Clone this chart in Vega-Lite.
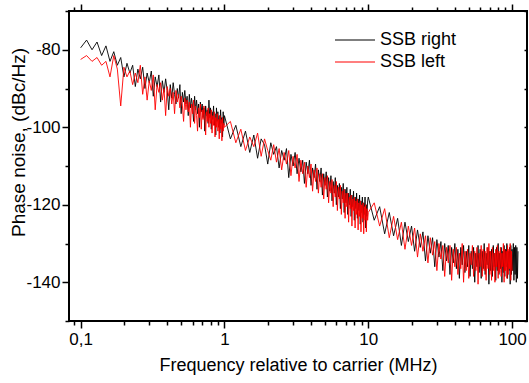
{
"$schema":"https://vega.github.io/schema/vega-lite/v6.json",
"width":458,"height":310,
"autosize":{"type":"none"},
"padding":{"left":69,"top":11,"right":2,"bottom":62},
"config":{"view":{"stroke":"#000","strokeWidth":2},"font":"Liberation Sans",
"axis":{"labelFont":"Liberation Sans","titleFont":"Liberation Sans","labelColor":"#000","titleColor":"#000","tickColor":"#000","domain":false,"grid":false,"tickWidth":1.5,"titleFontWeight":"normal","labelOverlap":false,"labelBound":false,"labelFlush":false}},
"data":{"values":[
{"f":0.1,"r":-79.5,"l":-82.5},{"f":0.11,"r":-77.5,"l":-81.5},{"f":0.12,"r":-80,"l":-83},{"f":0.13,"r":-78,"l":-82},{"f":0.14,"r":-81.5,"l":-84},{"f":0.15,"r":-79,"l":-83},{"f":0.16,"r":-83,"l":-87},{"f":0.17,"r":-80.5,"l":-81.5},{"f":0.18,"r":-84,"l":-85},{"f":0.19,"r":-82,"l":-94.5},
{"f":0.2,"r":-87,"l":-84.5},{"f":0.21,"r":-83.5,"l":-87},{"f":0.22,"r":-86,"l":-85.5},{"f":0.23,"r":-84,"l":-89},{"f":0.24,"r":-89.5,"l":-86},{"f":0.25,"r":-85,"l":-88.5},{"f":0.26,"r":-87.5,"l":-84},{"f":0.27,"r":-84.5,"l":-91.5},{"f":0.28,"r":-90,"l":-87},{"f":0.29,"r":-86,"l":-93},
{"f":0.3,"r":-88.5,"l":-88},{"f":0.31,"r":-85.5,"l":-90.5},{"f":0.32,"r":-92,"l":-86.5},{"f":0.33,"r":-87,"l":-95.5},{"f":0.34,"r":-89.5,"l":-89},{"f":0.35,"r":-86.5,"l":-91},{"f":0.36,"r":-93.5,"l":-88.5},{"f":0.37,"r":-88,"l":-93},{"f":0.38,"r":-91,"l":-90},{"f":0.39,"r":-87.5,"l":-97},
{"f":0.4,"r":-90.5,"l":-89.5},{"f":0.41,"r":-95.5,"l":-92},{"f":0.42,"r":-89,"l":-90},{"f":0.43,"r":-92.5,"l":-94},{"f":0.44,"r":-88.5,"l":-91},{"f":0.45,"r":-91.5,"l":-96.5},{"f":0.46,"r":-94,"l":-90.5},{"f":0.47,"r":-90,"l":-93.5},{"f":0.48,"r":-92.5,"l":-91.5},{"f":0.49,"r":-89,"l":-95},
{"f":0.5,"r":-96.5,"l":-92},{"f":0.51,"r":-91,"l":-94.5},{"f":0.52,"r":-93.5,"l":-98.5},{"f":0.53,"r":-90.5,"l":-92.5},{"f":0.54,"r":-94,"l":-95.5},{"f":0.55,"r":-92,"l":-93},{"f":0.56,"r":-97,"l":-96},{"f":0.57,"r":-91.5,"l":-93.5},{"f":0.58,"r":-95,"l":-100},{"f":0.59,"r":-92.5,"l":-94},
{"f":0.6,"r":-94.5,"l":-96.5},{"f":0.61,"r":-98.5,"l":-93},{"f":0.62,"r":-92,"l":-99},{"f":0.63,"r":-95.5,"l":-94.5},{"f":0.64,"r":-93,"l":-97},{"f":0.65,"r":-96.5,"l":-101},{"f":0.66,"r":-94,"l":-95},{"f":0.67,"r":-100,"l":-97.5},{"f":0.68,"r":-93.5,"l":-94},{"f":0.69,"r":-96,"l":-100.5},
{"f":0.7,"r":-94,"l":-95.5},{"f":0.71,"r":-97.5,"l":-98},{"f":0.72,"r":-95,"l":-94.5},{"f":0.73,"r":-101,"l":-97},{"f":0.74,"r":-94.5,"l":-102},{"f":0.75,"r":-97,"l":-96},{"f":0.76,"r":-95.5,"l":-98.5},{"f":0.77,"r":-99,"l":-95},{"f":0.78,"r":-93,"l":-100},{"f":0.79,"r":-97.5,"l":-96.5},
{"f":0.8,"r":-95,"l":-99},{"f":0.81,"r":-100.5,"l":-95.5},{"f":0.82,"r":-96,"l":-101.5},{"f":0.83,"r":-98,"l":-97},{"f":0.84,"r":-94.5,"l":-99.5},{"f":0.85,"r":-99.5,"l":-96},{"f":0.86,"r":-96.5,"l":-102.5},{"f":0.87,"r":-102,"l":-97.5},{"f":0.88,"r":-95,"l":-100},{"f":0.89,"r":-98.5,"l":-96.5},
{"f":0.9,"r":-96,"l":-101},{"f":0.91,"r":-100,"l":-98},{"f":0.92,"r":-97,"l":-103},{"f":0.93,"r":-101.5,"l":-97},{"f":0.94,"r":-95.5,"l":-100.5},{"f":0.95,"r":-99,"l":-98},{"f":0.96,"r":-97.5,"l":-103.5},{"f":0.97,"r":-102.5,"l":-97.5},{"f":0.98,"r":-96,"l":-101},{"f":0.99,"r":-99.5,"l":-99},
{"f":1.0,"r":-97,"l":-100},{"f":1.1,"r":-103,"l":-98.5},{"f":1.2,"r":-99.5,"l":-104},{"f":1.3,"r":-105,"l":-100.5},{"f":1.4,"r":-101,"l":-106},{"f":1.5,"r":-106.5,"l":-102.5},{"f":1.6,"r":-102,"l":-105},{"f":1.7,"r":-108,"l":-101.5},{"f":1.8,"r":-103,"l":-107.5},{"f":1.9,"r":-104.5,"l":-103},
{"f":2.0,"r":-109.5,"l":-106},{"f":2.1,"r":-104,"l":-108.5},{"f":2.2,"r":-107,"l":-104.5},{"f":2.3,"r":-105,"l":-109},{"f":2.4,"r":-110.5,"l":-105.5},{"f":2.5,"r":-106,"l":-111},{"f":2.6,"r":-108.5,"l":-106.5},{"f":2.7,"r":-105.5,"l":-109.5},{"f":2.8,"r":-113,"l":-106},{"f":2.9,"r":-107,"l":-112.5},
{"f":3.0,"r":-110,"l":-107.5},{"f":3.1,"r":-106.5,"l":-110.5},{"f":3.2,"r":-112,"l":-107},{"f":3.3,"r":-108,"l":-114},{"f":3.4,"r":-111.5,"l":-108.5},{"f":3.5,"r":-108.5,"l":-112},{"f":3.6,"r":-114.5,"l":-109},{"f":3.7,"r":-109,"l":-115.5},{"f":3.8,"r":-112,"l":-110},{"f":3.9,"r":-108.5,"l":-113},
{"f":4.0,"r":-115,"l":-109.5},{"f":4.1,"r":-110.5,"l":-116.5},{"f":4.2,"r":-113,"l":-111},{"f":4.3,"r":-109.5,"l":-114},{"f":4.4,"r":-116,"l":-110.5},{"f":4.5,"r":-111,"l":-117},{"f":4.6,"r":-114,"l":-112},{"f":4.7,"r":-110.5,"l":-115.5},{"f":4.8,"r":-117.5,"l":-112},{"f":4.9,"r":-112,"l":-118.5},
{"f":5.0,"r":-115,"l":-113},{"f":5.1,"r":-111.5,"l":-116},{"f":5.2,"r":-118,"l":-112.5},{"f":5.3,"r":-113,"l":-119.5},{"f":5.4,"r":-116.5,"l":-114},{"f":5.5,"r":-112.5,"l":-117},{"f":5.6,"r":-119,"l":-113.5},{"f":5.7,"r":-114,"l":-120.5},{"f":5.8,"r":-117,"l":-115},{"f":5.9,"r":-113,"l":-118},
{"f":6.0,"r":-120,"l":-114},{"f":6.1,"r":-115,"l":-121.5},{"f":6.2,"r":-118,"l":-115.5},{"f":6.3,"r":-114.5,"l":-118.5},{"f":6.4,"r":-121,"l":-115},{"f":6.5,"r":-115.5,"l":-122.5},{"f":6.6,"r":-118.5,"l":-116.5},{"f":6.7,"r":-114.5,"l":-119.5},{"f":6.8,"r":-122,"l":-116},{"f":6.9,"r":-116,"l":-123.5},
{"f":7.0,"r":-119.5,"l":-117},{"f":7.1,"r":-115.5,"l":-120.5},{"f":7.2,"r":-122.5,"l":-117},{"f":7.3,"r":-117,"l":-124.5},{"f":7.4,"r":-120,"l":-118},{"f":7.5,"r":-116,"l":-121},{"f":7.6,"r":-123,"l":-117.5},{"f":7.7,"r":-117.5,"l":-125.5},{"f":7.8,"r":-120.5,"l":-118.5},{"f":7.9,"r":-116.5,"l":-121.5},
{"f":8.0,"r":-124,"l":-118},{"f":8.1,"r":-118,"l":-126},{"f":8.2,"r":-121,"l":-119},{"f":8.3,"r":-117,"l":-122.5},{"f":8.4,"r":-123.5,"l":-118.5},{"f":8.5,"r":-118.5,"l":-126.5},{"f":8.6,"r":-121.5,"l":-119.5},{"f":8.7,"r":-117.5,"l":-123},{"f":8.8,"r":-125,"l":-119},{"f":8.9,"r":-119,"l":-127},
{"f":9.0,"r":-122,"l":-120},{"f":9.1,"r":-118,"l":-123.5},{"f":9.2,"r":-124.5,"l":-119.5},{"f":9.3,"r":-119.5,"l":-127.5},{"f":9.4,"r":-122.5,"l":-120.5},{"f":9.5,"r":-118,"l":-124},{"f":9.6,"r":-126,"l":-120},{"f":9.7,"r":-120,"l":-127},{"f":9.8,"r":-123,"l":-121},{"f":9.9,"r":-119,"l":-124},
{"f":10,"r":-118,"l":-122},{"f":11,"r":-124,"l":-119.5},{"f":12,"r":-120.5,"l":-125.5},{"f":13,"r":-127.5,"l":-121},{"f":14,"r":-122,"l":-128.5},{"f":15,"r":-128,"l":-123},{"f":16,"r":-123.5,"l":-129},{"f":17,"r":-130.5,"l":-124.5},{"f":18,"r":-124.5,"l":-131.5},{"f":19,"r":-129.5,"l":-125.5},
{"f":20,"r":-125.5,"l":-130.5},{"f":21,"r":-132,"l":-126},{"f":22,"r":-126.5,"l":-133.5},{"f":23,"r":-131,"l":-127.5},{"f":24,"r":-127,"l":-132},{"f":25,"r":-134.5,"l":-128},{"f":26,"r":-128,"l":-135},{"f":27,"r":-132.5,"l":-128.5},{"f":28,"r":-128.5,"l":-133},{"f":29,"r":-136,"l":-129.5},
{"f":30,"r":-129,"l":-137},{"f":31,"r":-133.5,"l":-130},{"f":32,"r":-129.5,"l":-134},{"f":33,"r":-137,"l":-130.5},{"f":34,"r":-130,"l":-138.5},{"f":35,"r":-134.5,"l":-131},{"f":36,"r":-130.5,"l":-135},{"f":37,"r":-138,"l":-130.5},{"f":38,"r":-131,"l":-139.5},{"f":39,"r":-135,"l":-131.5},
{"f":40,"r":-130,"l":-136},{"f":41,"r":-136.5,"l":-131},{"f":42,"r":-131.5,"l":-138},{"f":43,"r":-139,"l":-132.5},{"f":44,"r":-131,"l":-136.5},{"f":45,"r":-135.5,"l":-130},{"f":46,"r":-130.5,"l":-140},{"f":47,"r":-137.5,"l":-132},{"f":48,"r":-132,"l":-137},{"f":49,"r":-136,"l":-131.5},
{"f":50,"r":-130.5,"l":-139},{"f":51,"r":-138.5,"l":-132.5},{"f":52,"r":-132,"l":-135.5},{"f":53,"r":-136.5,"l":-130.5},{"f":54,"r":-131,"l":-138.5},{"f":55,"r":-140,"l":-132},{"f":56,"r":-132.5,"l":-137},{"f":57,"r":-136,"l":-131},{"f":58,"r":-130.5,"l":-140.5},{"f":59,"r":-137.5,"l":-132.5},
{"f":60,"r":-131.5,"l":-136},{"f":61,"r":-139,"l":-130.5},{"f":62,"r":-132,"l":-138.5},{"f":63,"r":-136.5,"l":-131.5},{"f":64,"r":-130,"l":-137},{"f":65,"r":-138,"l":-132},{"f":66,"r":-132.5,"l":-139.5},{"f":67,"r":-135.5,"l":-131},{"f":68,"r":-131,"l":-136.5},{"f":69,"r":-140.5,"l":-130},
{"f":70,"r":-132,"l":-138},{"f":71,"r":-137,"l":-132},{"f":72,"r":-131.5,"l":-139.5},{"f":73,"r":-138.5,"l":-131},{"f":74,"r":-130.5,"l":-137},{"f":75,"r":-136,"l":-132.5},{"f":76,"r":-132.5,"l":-140},{"f":77,"r":-139.5,"l":-131.5},{"f":78,"r":-131,"l":-136},{"f":79,"r":-137,"l":-130.5},
{"f":80,"r":-130,"l":-139},{"f":81,"r":-138,"l":-132},{"f":82,"r":-132.5,"l":-137.5},{"f":83,"r":-136.5,"l":-131},{"f":84,"r":-131,"l":-138.5},{"f":85,"r":-140,"l":-132.5},{"f":86,"r":-132,"l":-136},{"f":87,"r":-137.5,"l":-130},{"f":88,"r":-130.5,"l":-140},{"f":89,"r":-138.5,"l":-131.5},
{"f":90,"r":-131.5,"l":-137},{"f":91,"r":-136,"l":-132},{"f":92,"r":-130,"l":-139},{"f":93,"r":-139,"l":-130.5},{"f":94,"r":-132,"l":-138},{"f":95,"r":-137,"l":-131.5},{"f":96,"r":-131,"l":-136.5},{"f":97,"r":-140.5,"l":-130},{"f":98,"r":-130.5,"l":-139.5},{"f":99,"r":-138,"l":-132},
{"f":100,"r":-131.5,"l":-137},{"f":101,"r":-137},{"f":102,"r":-130},{"f":103,"r":-139.5},{"f":104,"r":-131},{"f":105,"r":-138},{"f":106,"r":-130.5},{"f":107,"r":-140},{"f":108,"r":-131},{"f":109,"r":-139},{"f":110,"r":-132}
]},
"layer":[
{"mark":{"type":"line","strokeWidth":0.9,"clip":true},
"encoding":{
"x":{"field":"f","type":"quantitative","scale":{"type":"log","domain":[0.083,127],"nice":false},
"axis":{"orient":"bottom","title":"Frequency relative to carrier (MHz)","titleFontSize":18,"titlePadding":9,"labelFontSize":17,"labelPadding":3,
"values":[0.09,0.1,0.2,0.3,0.4,0.5,0.6,0.7,0.8,0.9,1,2,3,4,5,6,7,8,9,10,20,30,40,50,60,70,80,90,100],
"tickSize":{"condition":{"test":"indexof([0.1,1,10,100], datum.value) >= 0","value":7},"value":4},
"labelExpr":"datum.value == 0.1 ? '0,1' : datum.value == 1 ? '1' : datum.value == 10 ? '10' : datum.value == 100 ? '100' : ''"}},
"y":{"field":"r","type":"quantitative","scale":{"domain":[-150,-70],"nice":false,"zero":false},
"axis":{"orient":"left","title":"Phase noise, (dBc/Hz)","titleFontSize":19,"titleAngle":270,"titleX":-51,"titleY":131,"titleAlign":"center","titleBaseline":"middle","labelFontSize":17,"labelPadding":2,
"values":[-150,-140,-130,-120,-110,-100,-90,-80,-70],
"tickSize":{"condition":{"test":"indexof([-80,-100,-120,-140], datum.value) >= 0","value":7},"value":4},
"labelExpr":"indexof([-80,-100,-120,-140], datum.value) >= 0 ? '-' + abs(datum.value) : ''"}},
"color":{"datum":"SSB right","type":"nominal","scale":{"domain":["SSB right","SSB left"],"range":["#000000","#ff0000"]},
"legend":{"title":null,"orient":"none","legendX":265,"legendY":18,"labelFontSize":18,"labelFont":"Liberation Sans","labelColor":"#000","symbolType":"M-1,0H3","symbolSize":400,"symbolStrokeWidth":1.2,"labelOffset":24,"rowPadding":2}}
}},
{"mark":{"type":"line","strokeWidth":0.9,"clip":true},
"encoding":{
"x":{"field":"f","type":"quantitative",
"axis":{"orient":"top","title":null,"labels":false,
"values":[0.09,0.1,0.2,0.3,0.4,0.5,0.6,0.7,0.8,0.9,1,2,3,4,5,6,7,8,9,10,20,30,40,50,60,70,80,90,100],
"tickSize":{"condition":{"test":"indexof([0.1,1,10,100], datum.value) >= 0","value":7},"value":4}}},
"y":{"field":"l","type":"quantitative",
"axis":{"orient":"right","title":null,"labels":false,"values":[-150,-140,-130,-120,-110,-100,-90,-80,-70],"tickSize":-3}},
"color":{"datum":"SSB left","type":"nominal"}
}}
],
"resolve":{"axis":{"x":"independent","y":"independent"}}
}
